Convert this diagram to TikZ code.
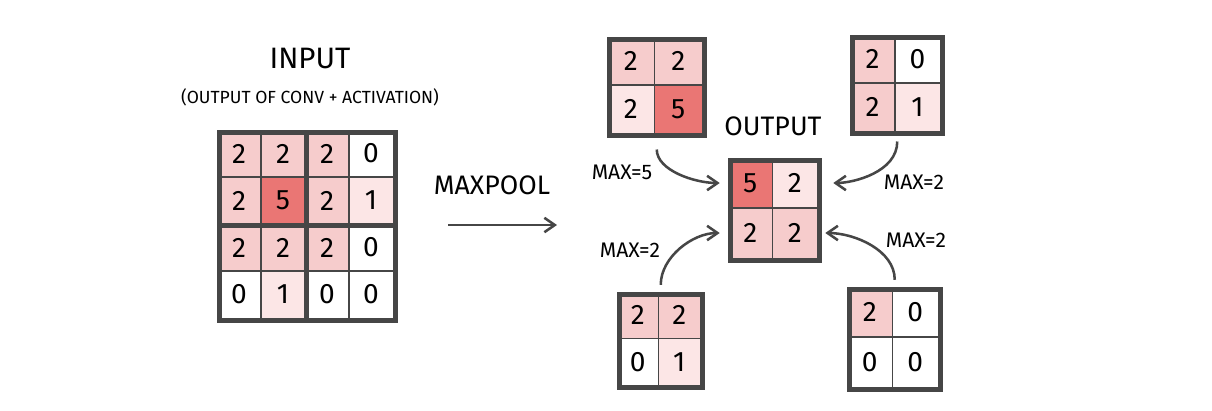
\documentclass[tikz,border=0pt]{standalone}
\usepackage{fontspec}
\setmainfont{Fira Sans}
\usetikzlibrary{arrows.meta}
\definecolor{pinkA}{RGB}{246,204,204}
\definecolor{pinkB}{RGB}{252,230,230}
\definecolor{redA}{RGB}{234,118,116}
\definecolor{pencil}{RGB}{70,70,70}
\tikzset{
  cell/.style={inner sep=0pt,font=\fontsize{20}{20}\selectfont},
  frame/.style={draw=pencil,line width=3.2pt,inner sep=0pt},
  thin line/.style={draw=pencil,line width=1.4pt},
  pool arrow/.style={->,draw=pencil,line width=1.8pt,>={Straight Barb[length=2.6mm,width=3.6mm]}},
  maxlabel/.style={font=\fontsize{15}{15}\selectfont}
}
% #1 name, #2 size, #3/#4 top left corner, #5/#6 cell size, #7 col/row/value/fill
\newcommand{\poolgrid}[7]{%
  \foreach \c/\r/\v/\f in {#7} {
    \node[cell,fill=\f,minimum width={#5*0.025cm},minimum height={#6*0.025cm}]
      (#1-\r\c) at ({#3+(\c-0.5)*#5},{#4+(\r-0.5)*#6}) {\v};
  }
  \pgfmathtruncatemacro{\last}{#2-1}
  \foreach \i in {1,...,\last} {
    \draw[thin line] ({#3+\i*#5},#4) -- ++(0,{#2*#6});
    \draw[thin line] (#3,{#4+\i*#6}) -- ++({#2*#5},0);
  }
  \node[frame,minimum width={#2*#5*0.025cm},minimum height={#2*#6*0.025cm},anchor=north west]
    (#1) at (#3,#4) {};
}

\begin{document}
\begin{tikzpicture}[x=0.025cm,y=-0.025cm]
\useasboundingbox (0,0) rectangle (1212,410);
% ================= input feature map =================
\node[font=\fontsize{21}{21}\selectfont] (inTitle) at (310,58) {INPUT};
\node[font=\fontsize{12.5}{12.5}\selectfont] (inSub) at (310,97) {(OUTPUT OF CONV + ACTIVATION)};
\poolgrid{in}{4}{217}{130}{44}{47}{
  1/1/2/pinkA, 2/1/2/pinkA, 3/1/2/pinkA, 4/1/0/white,
  1/2/2/pinkA, 2/2/5/redA,  3/2/2/pinkA, 4/2/1/pinkB,
  1/3/2/pinkA, 2/3/2/pinkA, 3/3/2/pinkA, 4/3/0/white,
  1/4/0/white, 2/4/1/pinkB, 3/4/0/white, 4/4/0/white}
% thick lines between the 2x2 windows
\draw[frame,line width=2.6pt] (in.north) -- (in.south);
\draw[frame,line width=2.6pt] (in.west) -- (in.east);
% ================= maxpool step =================
\node[font=\fontsize{19}{19}\selectfont] (poolText) at (492,185) {MAXPOOL};
\coordinate (poolStart) at (448,225);
\coordinate (poolEnd) at (557,225);
\draw[pool arrow] (poolStart) -- (poolEnd);
% ================= the four windows =================
\poolgrid{tl}{2}{607}{37}{47.5}{48}{1/1/2/pinkA, 2/1/2/pinkA, 1/2/2/pinkB, 2/2/5/redA}
\poolgrid{tr}{2}{850}{35}{45}{48}{1/1/2/pinkA, 2/1/0/white, 1/2/2/pinkA, 2/2/1/pinkB}
\poolgrid{bl}{2}{617}{292}{41.5}{46.5}{1/1/2/pinkA, 2/1/2/pinkA, 1/2/0/white, 2/2/1/pinkB}
\poolgrid{br}{2}{847}{287}{45.5}{50}{1/1/2/pinkA, 2/1/0/white, 1/2/0/white, 2/2/0/white}
% ================= pooled output =================
\node[font=\fontsize{19}{19}\selectfont] (outTitle) at (773,126) {OUTPUT};
\poolgrid{out}{2}{728}{158}{44.5}{50}{1/1/5/redA, 2/1/2/pinkB, 1/2/2/pinkA, 2/2/2/pinkA}
% curved arrows into the output cells
\draw[pool arrow,shorten <=0.3cm,shorten >=0.2cm] (tl.south) to[out=-90,in=180] (out-11.west);
\draw[pool arrow,shorten <=0.15cm,shorten >=0.4cm] (tr.south) to[out=-90,in=0] (out-12.east);
\draw[pool arrow,shorten <=0.18cm,shorten >=0.2cm] (bl.north) to[out=90,in=180] (out-21.west);
\draw[pool arrow,shorten <=0.18cm,shorten >=0.2cm] (br.north) to[out=90,in=0] (out-22.east);
\node[maxlabel] (maxTL) at (622,172) {MAX=5};
\node[maxlabel] (maxTR) at (914,182) {MAX=2};
\node[maxlabel] (maxBL) at (630,250) {MAX=2};
\node[maxlabel] (maxBR) at (916,240) {MAX=2};
\end{tikzpicture}
\end{document}
